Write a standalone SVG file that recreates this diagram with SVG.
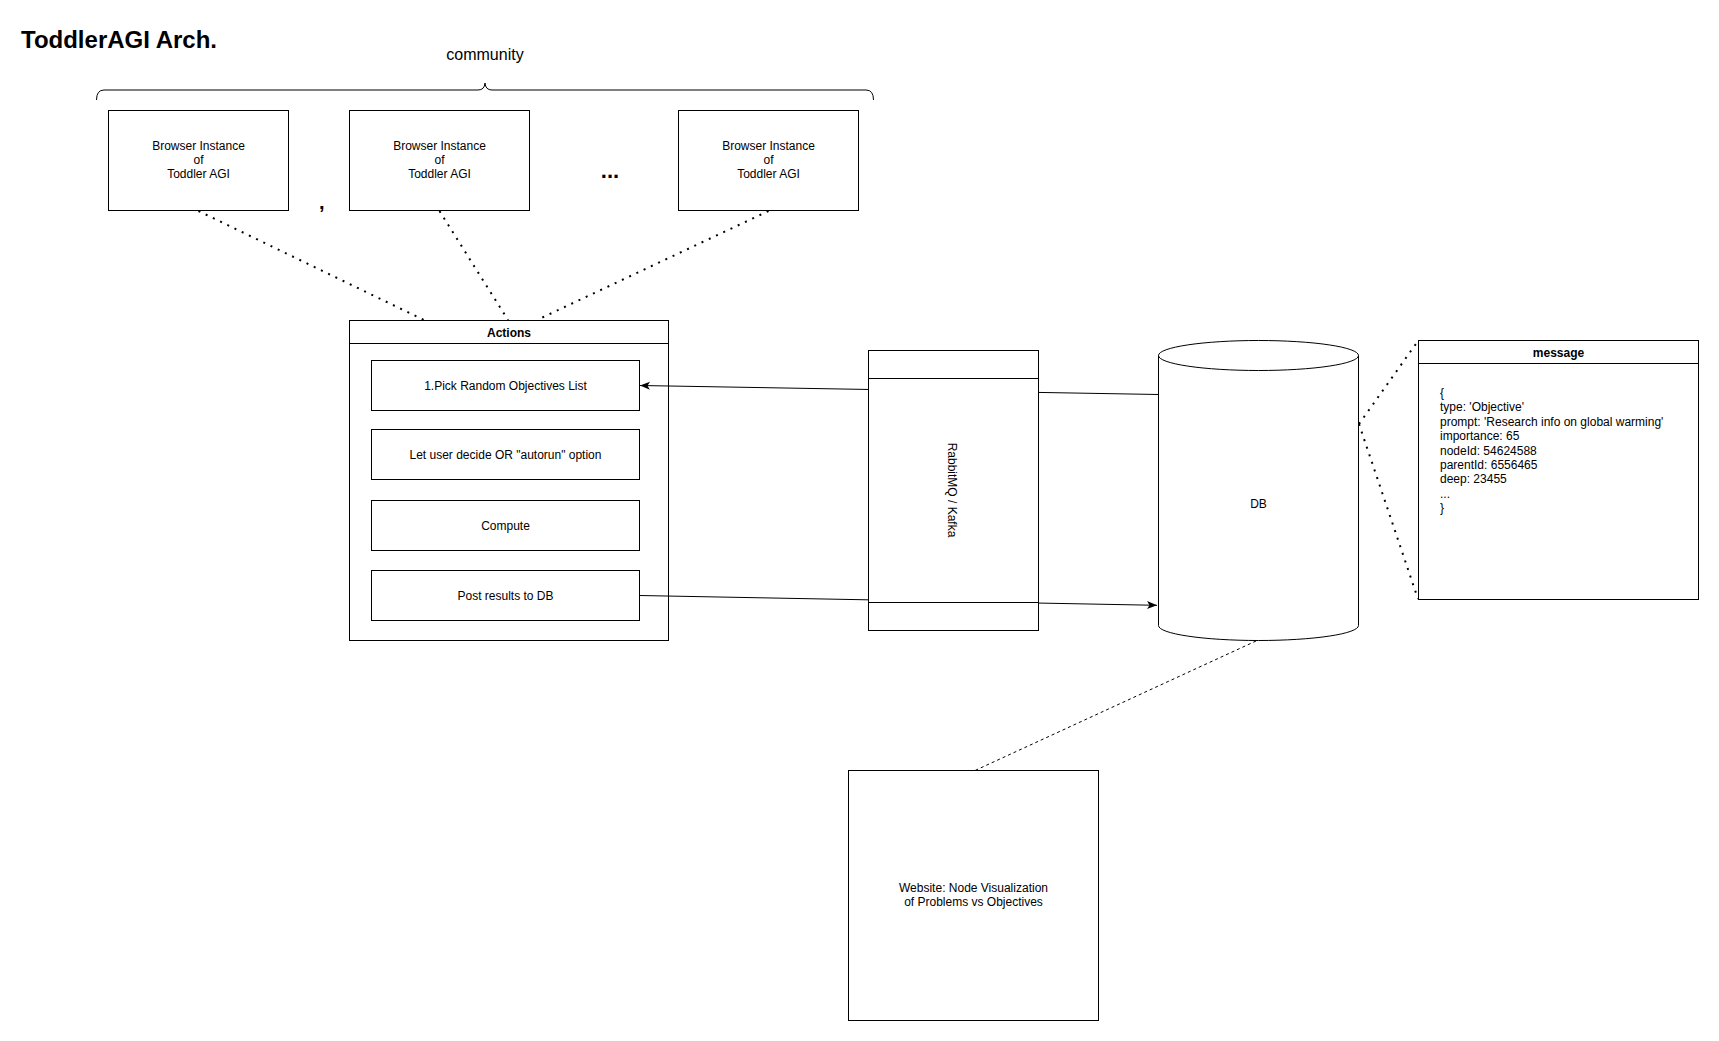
<svg xmlns="http://www.w3.org/2000/svg" width="1719" height="1041" viewBox="0 0 1719 1041">
<style>
.b{fill:#fff;stroke:#000;stroke-width:1}
.t{font-family:"Liberation Sans",Arial,sans-serif;font-size:12px;fill:#000}
.c{text-anchor:middle}
.bold{font-weight:bold}
.dot{fill:none;stroke:#000;stroke-width:2;stroke-dasharray:2 6}
.dash{fill:none;stroke:#000;stroke-width:1;stroke-dasharray:3 3}
.edge{fill:none;stroke:#000;stroke-width:1}
</style>
<defs>
<marker id="arr" markerUnits="userSpaceOnUse" markerWidth="12" markerHeight="10" refX="10" refY="4" orient="auto">
<path d="M0,0 L10,4 L0,8 L2.5,4 Z" fill="#000"/>
</marker>
</defs>
<rect width="1719" height="1041" fill="#fff"/>
<g id="title">
<text x="21" y="48" class="t bold" style="font-size:24px">ToddlerAGI Arch.</text>
</g>
<g id="community">
<text x="485" y="60" class="t c" style="font-size:16px">community</text>
<path d="M96.5,100 Q96.5,90 104,90 L478,90 Q484.5,90 485,83 Q485.5,90 492,90 L866,90 Q873.5,90 873.5,100" fill="none" stroke="#000"/>
</g>
<g id="browser1">
<rect class="b" x="108.5" y="110.5" width="180" height="100"/>
<text class="t c" x="198.5" y="149.5">Browser Instance<tspan x="198.5" dy="14.4">of</tspan><tspan x="198.5" dy="14.4">Toddler AGI</tspan></text>
</g>
<g id="comma"><text class="t bold" x="319" y="209" style="font-size:20px">,</text></g>
<g id="browser2">
<rect class="b" x="349.5" y="110.5" width="180" height="100"/>
<text class="t c" x="439.5" y="149.5">Browser Instance<tspan x="439.5" dy="14.4">of</tspan><tspan x="439.5" dy="14.4">Toddler AGI</tspan></text>
</g>
<g id="ellipsis"><text class="t bold c" x="610" y="178" style="font-size:22px">...</text></g>
<g id="browser3">
<rect class="b" x="678.5" y="110.5" width="180" height="100"/>
<text class="t c" x="768.5" y="149.5">Browser Instance<tspan x="768.5" dy="14.4">of</tspan><tspan x="768.5" dy="14.4">Toddler AGI</tspan></text>
</g>
<g id="actions">
<rect class="b" x="349.5" y="320.5" width="319" height="320"/>
<line x1="349.5" y1="343.5" x2="668.5" y2="343.5" stroke="#000"/>
<text class="t c bold" x="509" y="337">Actions</text>
</g>
<g id="pick">
<rect class="b" x="371.5" y="360.5" width="268" height="50"/>
<text class="t c" x="505.5" y="390">1.Pick Random Objectives List</text>
</g>
<g id="decide">
<rect class="b" x="371.5" y="429.5" width="268" height="50"/>
<text class="t c" x="505.5" y="459">Let user decide OR "autorun" option</text>
</g>
<g id="compute">
<rect class="b" x="371.5" y="500.5" width="268" height="50"/>
<text class="t c" x="505.5" y="530">Compute</text>
</g>
<g id="post">
<rect class="b" x="371.5" y="570.5" width="268" height="50"/>
<text class="t c" x="505.5" y="600">Post results to DB</text>
</g>
<g id="connectors">
<line class="dot" x1="198.5" y1="211" x2="424" y2="320"/>
<line class="dot" x1="439.5" y1="211" x2="508" y2="320"/>
<line class="dot" x1="768.5" y1="211" x2="537" y2="320"/>
<line class="edge" x1="1158.5" y1="394.5" x2="640" y2="385.5" marker-end="url(#arr)"/>
<line class="edge" x1="639.5" y1="595.5" x2="1157" y2="605.3" marker-end="url(#arr)"/>
<line class="dot" x1="1359" y1="424" x2="1418" y2="341"/>
<line class="dot" x1="1359" y1="424" x2="1418" y2="599"/>
<line class="dash" x1="1256" y1="641" x2="975" y2="770.5"/>
</g>
<g id="queue">
<rect class="b" x="868.5" y="350.5" width="170" height="280"/>
<line x1="868.5" y1="378.5" x2="1038.5" y2="378.5" stroke="#000"/>
<line x1="868.5" y1="602.5" x2="1038.5" y2="602.5" stroke="#000"/>
<text class="t c" transform="translate(948,490) rotate(90)" x="0" y="0">RabbitMQ / Kafka</text>
</g>
<g id="db">
<path class="b" d="M1158.5,355.5 A100,15 0 0 1 1358.5,355.5 L1358.5,625.5 A100,15 0 0 1 1158.5,625.5 Z"/>
<path d="M1158.5,355.5 A100,15 0 0 0 1358.5,355.5" fill="none" stroke="#000"/>
<text class="t c" x="1258.5" y="507.5">DB</text>
</g>
<g id="message">
<rect class="b" x="1418.5" y="340.5" width="280" height="259"/>
<line x1="1418.5" y1="363.5" x2="1698.5" y2="363.5" stroke="#000"/>
<text class="t c bold" x="1558.5" y="357">message</text>
<text class="t" x="1440" y="397">{<tspan x="1440" dy="14.4">type: 'Objective'</tspan><tspan x="1440" dy="14.4">prompt: 'Research info on global warming'</tspan><tspan x="1440" dy="14.4">importance: 65</tspan><tspan x="1440" dy="14.4">nodeId: 54624588</tspan><tspan x="1440" dy="14.4">parentId: 6556465</tspan><tspan x="1440" dy="14.4">deep: 23455</tspan><tspan x="1440" dy="14.4">...</tspan><tspan x="1440" dy="14.4">}</tspan></text>
</g>
<g id="website">
<rect class="b" x="848.5" y="770.5" width="250" height="250"/>
<text class="t c" x="973.5" y="892">Website: Node Visualization<tspan x="973.5" dy="14.4">of Problems vs Objectives</tspan></text>
</g>
</svg>
